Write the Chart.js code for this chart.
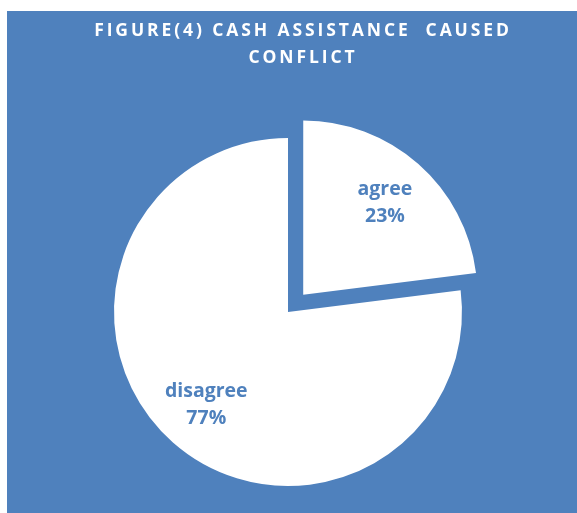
<!DOCTYPE html>
<html>
<head>
<meta charset="utf-8">
<script src="https://cdn.jsdelivr.net/npm/chart.js@4/dist/chart.umd.min.js"></script>
<style>
  html, body { margin: 0; padding: 0; background: #ffffff; }
  #wrap { width: 577px; height: 513px; position: relative; }
</style>
</head>
<body>
<div id="wrap"><canvas id="pie" width="577" height="513"></canvas></div>
<script>
// chart values
const titleLines = ['FIGURE(4) CASH ASSISTANCE  CAUSED', 'CONFLICT'];
const categories = ['agree', 'disagree'];
const shares = [23, 77];
const explode = [92, 0]; // Chart.js moves the slice by offset / 4

const blue = '#4f81bd';

// blue panel + title
const panelPlugin = {
    id: 'panel',
    beforeDraw(chart) {
        const ctx = chart.ctx;
        ctx.save();
        ctx.fillStyle = blue;
        ctx.fillRect(7, 11, chart.width - 7, chart.height - 11);
        ctx.fillStyle = '#ffffff';
        ctx.font = 'bold 17.5px "Open Sans"';
        ctx.letterSpacing = '2.9px';
        ctx.textAlign = 'center';
        ctx.textBaseline = 'alphabetic';
        ctx.fillText(titleLines[0], 303, 36);
        ctx.fillText(titleLines[1], 303, 63);
        ctx.restore();
    }
};

// category name + percent inside each slice
const sliceLabels = {
    id: 'sliceLabels',
    afterDatasetsDraw(chart) {
        const ctx = chart.ctx;
        const meta = chart.getDatasetMeta(0);
        const total = shares.reduce((a, b) => a + b, 0);
        ctx.save();
        ctx.fillStyle = blue;
        ctx.font = 'bold 19.5px "Open Sans"';
        ctx.textAlign = 'center';
        ctx.textBaseline = 'middle';
        meta.data.forEach((arc, i) => {
            const p = arc.getProps(['x', 'y', 'startAngle', 'endAngle', 'outerRadius']);
            const mid = (p.startAngle + p.endAngle) / 2;
            const shift = explode[i] / 4;
            const d = p.outerRadius * 0.71;
            const cx = p.x + Math.cos(mid) * (d + shift);
            const cy = p.y + Math.sin(mid) * (d + shift);
            const pct = Math.round(shares[i] / total * 100) + '%';
            ctx.fillText(categories[i], cx, cy - 13);
            ctx.fillText(pct, cx, cy + 14);
        });
        ctx.restore();
    }
};

new Chart(document.getElementById('pie').getContext('2d'), {
    type: 'pie',
    data: {
        labels: categories,
        datasets: [{
            data: shares,
            backgroundColor: ['#ffffff', '#ffffff'],
            borderWidth: 0,
            offset: explode,
            radius: 174
        }]
    },
    options: {
        responsive: false,
        animation: false,
        layout: {
            padding: { top: 111, left: 0, right: 1, bottom: 0 }
        },
        plugins: {
            legend: { display: false },
            title: { display: false },
            tooltip: { enabled: false }
        }
    },
    plugins: [panelPlugin, sliceLabels]
});
</script>
</body>
</html>
